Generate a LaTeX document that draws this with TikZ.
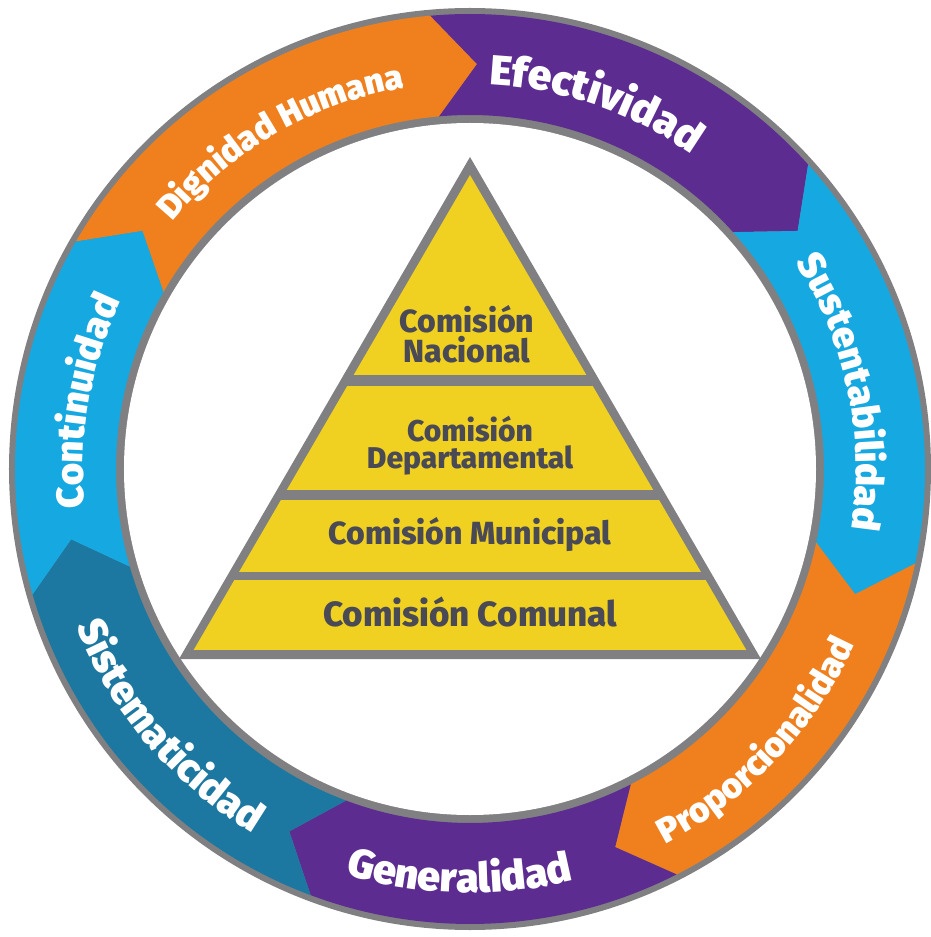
\documentclass[tikz,border=0pt]{standalone}
\usepackage{fontspec}
\setmainfont{Fira Sans}
\newfontfamily\ringheavy{Fira Sans Black}
\newfontfamily\tierheavy{Fira Sans ExtraBold}
\usetikzlibrary{decorations.text, positioning}
\definecolor{ringorange}{RGB}{240,128,30}
\definecolor{ringpurple}{RGB}{92,44,145}
\definecolor{ringblue}{RGB}{22,168,225}
\definecolor{ringteal}{RGB}{28,120,160}
\definecolor{tieryellow}{RGB}{240,208,32}
\definecolor{rimgray}{RGB}{128,128,130}
\definecolor{tiertext}{RGB}{74,74,86}
\newcommand{\ringfmt}[1]{\fontsize{#1}{#1}\selectfont\ringheavy\color{white}}
\tikzset{
    segment/.style n args={3}{fill=#3, insert path={(#1:455) arc[start angle=#1, end angle=#2, radius=455] -- ({#2-6}:405) -- (#2:354) arc[start angle=#2, end angle=#1, radius=354] -- ({#1-6}:405) -- cycle}},
    ringlabel/.style 2 args={decorate, decoration={text along path, text align=center, text={|\ringfmt{#1}|#2}}},
    tier/.style={text=tiertext, align=center, inner sep=0pt},
    band/.style={fill=tieryellow}
}

\begin{document}
\begin{tikzpicture}[x=1pt, y=1pt]
    \fill[white] (-470,-468) rectangle (461,469);
    \useasboundingbox (-470,-468) rectangle (461,469);

    % ring
    \fill[rimgray] (0,0) circle[radius=461];
    \path[segment={150}{95}{ringorange}];
    \path[segment={95}{42}{ringpurple}];
    \path[segment={42}{-12}{ringblue}];
    \path[segment={-12}{-63}{ringorange}];
    \path[segment={-63}{-110.5}{ringpurple}];
    \path[segment={-110.5}{-164}{ringteal}];
    \path[segment={196}{150}{ringblue}];
    \fill[white] (0,0) circle[radius=346];

    \path[ringlabel={34}{Dignidad Humana}] (170:387) arc[start angle=170, end angle=70, radius=387];
    \path[ringlabel={42}{Efectividad}] (121:385) arc[start angle=121, end angle=21, radius=385];
    \path[ringlabel={38}{Sustentabilidad}] (61.7:386) arc[start angle=61.7, end angle=-38.3, radius=386];
    \path[ringlabel={38}{Continuidad}] (220:387) arc[start angle=220, end angle=120, radius=387];
    \path[ringlabel={35}{Proporcionalidad}] (-93.5:423) arc[start angle=-93.5, end angle=6.5, radius=423];
    \path[ringlabel={41}{Generalidad}] (-141.5:424) arc[start angle=-141.5, end angle=-41.5, radius=424];
    \path[ringlabel={40}{Sistematicidad}] (-189.5:424) arc[start angle=-189.5, end angle=-89.5, radius=424];

    % pyramid
    \fill[rimgray] (0,312) -- (-291,-190) -- (291,-190) -- cycle;
    \begin{scope}
        \clip (0,294) -- (-287.4,-200) -- (287.4,-200) -- cycle;
        \fill[band] (-300,94) rectangle (300,300);
        \fill[band] (-300,-21) rectangle (300,83);
        \fill[band] (-300,-103) rectangle (300,-31);
        \fill[band] (-300,-181) rectangle (300,-111);
    \end{scope}

    \node[tier, font={\fontsize{32}{30}\selectfont\tierheavy}] (nacional) at (-3,135) {Comisión\\Nacional};
    \node[tier, font={\fontsize{30}{27}\selectfont\tierheavy}] (departamental) at (0,23) {Comisión\\Departamental};
    \node[tier, font={\fontsize{32}{31}\selectfont\tierheavy}] (municipal) at (0,-66) {Comisión Municipal};
    \node[tier, font={\fontsize{35}{34}\selectfont\tierheavy}] (comunal) at (0,-143) {Comisión Comunal};
\end{tikzpicture}
\end{document}
